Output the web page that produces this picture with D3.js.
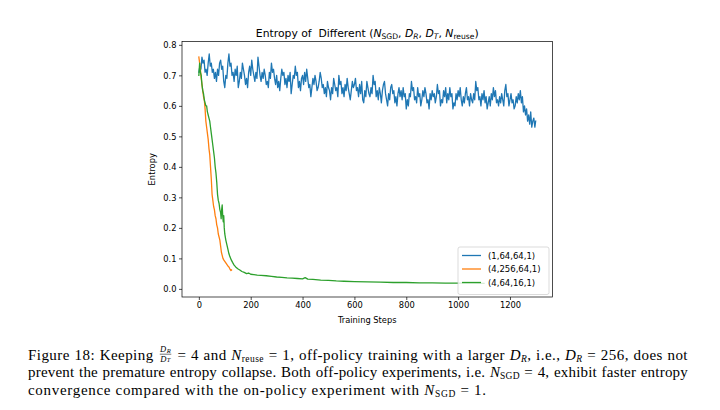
<!DOCTYPE html>
<html><head><meta charset="utf-8">
<script src="https://cdn.jsdelivr.net/npm/d3@7"></script>
<style>
body{margin:0;background:#fff}
svg{display:block}
text{white-space:pre}
</style></head><body>
<svg id="c" width="720" height="410"></svg>
<script>
// ---------- data ----------
const seriesNames = ["(1,64,64,1)", "(4,256,64,1)", "(4,64,16,1)"];
const seriesColors = ["#1f77b4", "#ff7f0e", "#2ca02c"];
const xTickValues = [0, 200, 400, 600, 800, 1000, 1200];
const yTickValues = [0.0, 0.1, 0.2, 0.3, 0.4, 0.5, 0.6, 0.7, 0.8];

// (1,64,64,1): one reading every 4 steps, last reading at step 1299
const blueValues = [
  .71,.73,.72,.76,.74,.75,.71,.72,.70,.74,.77,.73,.74,.71,.72,
  .69,.71,.68,.72,.70,.74,.75,.72,.73,.68,.66,.70,.69,.74,.77,
  .73,.74,.70,.71,.68,.72,.70,.73,.66,.68,.71,.69,.74,.72,.70,
  .67,.69,.66,.71,.73,.70,.75,.72,.70,.68,.71,.69,.76,.73,.70,
  .68,.71,.69,.72,.70,.67,.68,.66,.71,.69,.74,.71,.72,.69,.67,
  .70,.66,.68,.65,.69,.72,.70,.71,.67,.69,.66,.70,.68,.71,.64,
  .67,.70,.69,.73,.70,.71,.66,.68,.65,.69,.70,.67,.71,.68,.72,
  .69,.66,.67,.63,.66,.69,.67,.70,.68,.65,.66,.68,.71,.69,.66,
  .67,.64,.66,.63,.68,.66,.65,.62,.66,.64,.69,.67,.65,.66,.63,
  .70,.67,.68,.64,.66,.63,.67,.65,.69,.66,.64,.62,.65,.68,.66,
  .67,.69,.65,.66,.63,.67,.64,.68,.62,.61,.65,.63,.68,.66,.64,
  .63,.66,.64,.70,.67,.68,.63,.65,.62,.66,.64,.61,.65,.67,.68,
  .64,.62,.60,.64,.62,.66,.67,.64,.65,.61,.63,.60,.64,.66,.63,
  .65,.62,.66,.63,.64,.59,.62,.60,.64,.63,.68,.65,.66,.62,.63,
  .61,.66,.63,.64,.60,.62,.65,.63,.66,.64,.61,.62,.59,.64,.62,
  .65,.63,.64,.61,.63,.67,.64,.65,.60,.62,.61,.65,.63,.66,.61,
  .64,.62,.66,.63,.64,.59,.61,.60,.64,.62,.65,.63,.66,.62,.60,
  .63,.61,.64,.66,.62,.63,.60,.64,.62,.61,.64,.62,.68,.65,.66,
  .62,.63,.60,.64,.62,.65,.61,.63,.59,.61,.63,.60,.64,.62,.66,
  .63,.65,.61,.62,.60,.63,.61,.64,.62,.60,.65,.67,.63,.64,.60,
  .62,.64,.61,.62,.59,.60,.63,.61,.64,.62,.65,.61,.63,.58,.60,
  .57,.59,.55,.57,.54,.58,.53,.55,.56,.53,
  .55
];
const blueSteps = blueValues.map((d, i) => i < blueValues.length - 1 ? i * 4 : 1299);

// (4,256,64,1)
const orangeSteps  = [0,3,6,9,12,15,18,21,24,27,30,33,36,39,42,45,48,51,54,57,60,63,66,69,72,75,78,81,84,87,90,93,96,100,104,108,112,116,120,124,126];
const orangeValues = [0.76,0.74,0.72,0.69,0.67,0.65,0.63,0.62,0.59,0.55,0.53,0.51,0.49,0.46,0.44,0.40,0.36,0.31,0.29,0.27,0.26,0.24,0.23,0.21,0.20,0.18,0.17,0.16,0.14,0.12,0.11,0.10,0.095,0.09,0.085,0.08,0.075,0.072,0.065,0.06,0.062];

// (4,64,16,1)
const greenSteps  = [0,3,6,9,12,15,18,21,24,27,30,33,36,39,42,45,48,51,54,57,60,63,66,69,72,75,78,81,84,86,88,90,92,94,96,98,100,104,108,112,116,120,125,130,136,142,150,158,166,175,184,192,200,212,225,240,260,280,300,320,340,360,380,400,410,420,440,470,500,530,560,600,650,700,750,800,850,900,950,1000,1050,1100];
const greenValues = [0.70,0.74,0.71,0.70,0.67,0.65,0.64,0.62,0.61,0.60,0.60,0.58,0.57,0.56,0.55,0.53,0.51,0.49,0.47,0.45,0.43,0.40,0.38,0.35,0.31,0.29,0.28,0.26,0.25,0.23,0.26,0.275,0.24,0.22,0.24,0.20,0.18,0.16,0.145,0.13,0.115,0.105,0.095,0.087,0.078,0.072,0.066,0.062,0.057,0.054,0.050,0.052,0.048,0.047,0.045,0.044,0.043,0.041,0.039,0.038,0.036,0.035,0.034,0.033,0.037,0.032,0.031,0.029,0.028,0.026,0.025,0.024,0.023,0.022,0.021,0.021,0.020,0.020,0.019,0.019,0.019,0.018];

// ---------- drawing ----------
const svg = d3.select("#c");
const FONT = "DejaVu Sans";
const L = 182, R = 552.5, T = 41.5, B = 297;
const x = d3.scaleLinear().domain([-65, 1364]).range([L, R]);
const y = d3.scaleLinear().domain([-0.0266, 0.811]).range([B, T]);

svg.append("defs").append("clipPath").attr("id", "clip")
  .append("rect").attr("x", L).attr("y", T).attr("width", R - L).attr("height", B - T);

const series = [
  {steps: blueSteps, values: blueValues},
  {steps: orangeSteps, values: orangeValues},
  {steps: greenSteps, values: greenValues}
];
const line = d3.line().x(d => x(d[0])).y(d => y(d[1]));
const plot = svg.append("g").attr("clip-path", "url(#clip)");
series.forEach((s, i) => {
  plot.append("path")
    .datum(s.steps.map((st, j) => [st, s.values[j]]))
    .attr("d", line).attr("fill", "none")
    .attr("stroke", seriesColors[i]).attr("stroke-width", 1.3)
    .attr("stroke-linejoin", "round").attr("stroke-linecap", "square");
});

// axes
const xAxis = svg.append("g").attr("transform", `translate(0,${B})`)
  .call(d3.axisBottom(x).tickValues(xTickValues).tickSize(3).tickPadding(2.5).tickFormat(d3.format("d")));
const yAxis = svg.append("g").attr("transform", `translate(${L},0)`)
  .call(d3.axisLeft(y).tickValues(yTickValues).tickSize(3).tickPadding(2.5).tickFormat(d3.format(".1f")));
[xAxis, yAxis].forEach(a => {
  a.select(".domain").remove();
  a.selectAll("line").attr("stroke", "#000").attr("stroke-width", 0.7);
  a.selectAll("text").attr("font-family", FONT).attr("font-size", 8.3).attr("fill", "#000");
});
svg.append("rect").attr("x", L).attr("y", T).attr("width", R - L).attr("height", B - T)
  .attr("fill", "none").attr("stroke", "#000").attr("stroke-width", 0.7);

// axis labels
svg.append("text").attr("x", (L + R) / 2).attr("y", 323).attr("text-anchor", "middle")
  .attr("font-family", FONT).attr("font-size", 8.3).text("Training Steps");
svg.append("text").attr("transform", `translate(155,${(T + B) / 2}) rotate(-90)`).attr("text-anchor", "middle")
  .attr("font-family", FONT).attr("font-size", 8.3).text("Entropy");

// title with math
const title = svg.append("text").attr("x", (L + R) / 2).attr("y", 37).attr("text-anchor", "middle")
  .attr("font-family", FONT).attr("font-size", 10.8);
const titleParts = [
  {t: "Entropy of  Different ("},
  {t: "N", it: true}, {t: "SGD", sub: true}, {t: ", "},
  {t: "D", it: true}, {t: "R", sub: true, it: true}, {t: ", "},
  {t: "D", it: true}, {t: "T", sub: true, it: true}, {t: ", "},
  {t: "N", it: true}, {t: "reuse", sub: true}, {t: ")"}
];
let wasSub = false;
titleParts.forEach(p => {
  const ts = title.append("tspan").text(p.t);
  if (p.it) ts.attr("font-style", "italic");
  if (p.sub) { ts.attr("font-size", 7.6).attr("dy", wasSub ? 0 : 2.2); wasSub = true; }
  else if (wasSub) { ts.attr("dy", -2.2); wasSub = false; }
});

// legend
const lg = svg.append("g");
lg.append("rect").attr("x", 458).attr("y", 247).attr("width", 91).attr("height", 47.5).attr("rx", 2)
  .attr("fill", "#fff").attr("fill-opacity", 0.8).attr("stroke", "#ccc").attr("stroke-width", 0.7);
seriesNames.forEach((n, i) => {
  const yy = 255.5 + i * 13.5;
  lg.append("line").attr("x1", 462).attr("x2", 481).attr("y1", yy).attr("y2", yy)
    .attr("stroke", seriesColors[i]).attr("stroke-width", 1.3);
  lg.append("text").attr("x", 488).attr("y", yy + 3).attr("font-family", FONT).attr("font-size", 8.5).text(n);
});

// caption
const CF = "Liberation Serif", CS = 15, SUBS = 9.5, SUBDY = 2, FRS = 8.5, FRSUB = 6.5;
let LS = 0.45;
const cap = svg.append("g");
function styleT(e, size, italic) {
  return e.attr("font-family", CF).attr("font-size", size).attr("letter-spacing", LS)
    .attr("font-style", italic ? "italic" : "normal");
}
function measure(t, size, italic) {
  const e = styleT(cap.append("text"), size, italic).text(t);
  const w = e.node().getComputedTextLength(); e.remove(); return w;
}
const macros = {
  "N_reuse": [{t: "N", it: true}, {t: "reuse", sub: true}],
  "N_SGD": [{t: "N", it: true}, {t: "SGD", sub: true}],
  "D_R": [{t: "D", it: true}, {t: "R", sub: true, it: true}],
  "FRAC": [{frac: true}]
};
function tokens(str) {
  const out = [];
  str.split(" ").forEach((w, wi) => {
    if (wi > 0) out.push({space: true});
    (w.match(/\{[^}]+\}|[^{]+/g) || []).forEach(m => {
      if (m[0] === "{") macros[m.slice(1, -1)].forEach(k => out.push(k));
      else out.push({t: m});
    });
  });
  return out;
}
function tokWidth(k) {
  if (k.frac) return Math.max(measure("D", FRS, true) + measure("R", FRSUB, true), measure("D", FRS, true) + measure("T", FRSUB, true)) + 3.5;
  return measure(k.t, k.sub ? SUBS : CS, k.it);
}
function natural(toks, sp) {
  let nat = 0, nsp = 0, nch = 0;
  toks.forEach(k => {
    if (k.space) { nat += sp; nsp++; }
    else { nat += tokWidth(k); nch += k.frac ? 2 : k.t.length; }
  });
  return {nat, nsp, nch};
}
// justify: spread extra room over spaces; otherwise fit the letter spacing to the width
function drawLine(str, baseY, x0, x1, justify) {
  LS = 0.45;
  const toks = tokens(str);
  let sp = measure("a b", CS) - measure("ab", CS);
  let m = natural(toks, sp);
  for (let it = 0; it < 4; it++) {
    const slack = justify ? 0.1 * sp * m.nsp : 0;
    const need = m.nat + slack - (x1 - x0);
    if (justify ? need <= 0 : Math.abs(need) < 0.5) break;
    LS = LS - need / m.nch;
    sp = measure("a b", CS) - measure("ab", CS);
    m = natural(toks, sp);
  }
  const extra = justify ? (x1 - x0 - m.nat) / m.nsp : 0;
  let cx = x0;
  toks.forEach(k => {
    if (k.space) { cx += sp + extra; return; }
    const w = tokWidth(k);
    if (k.frac) {
      const fx = cx + 1.5, fw = w - 3, mid = fx + fw / 2;
      const fr = styleT(cap.append("text"), FRS, true).attr("text-anchor", "middle");
      fr.append("tspan").attr("x", mid).attr("y", baseY - 7.8).text("D");
      fr.append("tspan").attr("font-size", FRSUB).attr("dy", 1).text("R");
      fr.append("tspan").attr("x", mid).attr("y", baseY + 2.4).text("D");
      fr.append("tspan").attr("font-size", FRSUB).attr("dy", 0.5).text("T");
      cap.append("line").attr("x1", fx).attr("x2", fx + fw).attr("y1", baseY - 5.3).attr("y2", baseY - 5.3)
        .attr("stroke", "#000").attr("stroke-width", 0.55);
    } else {
      styleT(cap.append("text"), k.sub ? SUBS : CS, k.it).attr("x", cx).attr("y", baseY + (k.sub ? SUBDY : 0)).text(k.t);
    }
    cx += w;
  });
}
drawLine("Figure 18: Keeping {FRAC} = 4 and {N_reuse} = 1, off-policy training with a larger {D_R}, i.e., {D_R} = 256, does not", 359.5, 28, 688, true);
drawLine("prevent the premature entropy collapse. Both off-policy experiments, i.e. {N_SGD} = 4, exhibit faster entropy", 377, 28, 688, true);
drawLine("convergence compared with the on-policy experiment with {N_SGD} = 1.", 394.5, 28, 487, false);
</script>
</body></html>
